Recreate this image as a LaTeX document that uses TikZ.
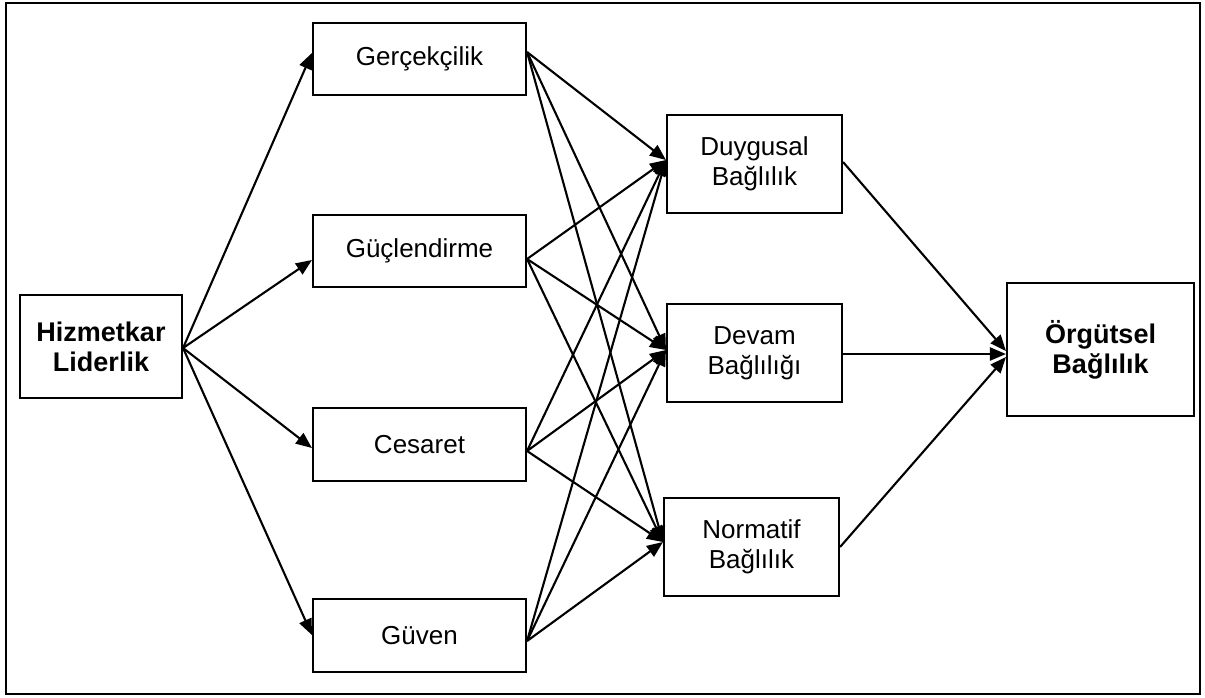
\documentclass[tikz,border=0pt]{standalone}
\usepackage{fontspec}
\setmainfont{Liberation Sans}
\usetikzlibrary{calc,arrows.meta}

\tikzset{
  box/.style={draw, line width=2.1pt, inner sep=0pt, align=center,
    font=\fontsize{26}{30.5}\selectfont},
  boldbox/.style={box, font=\fontsize{27}{30}\selectfont\bfseries},
  link/.style={line width=2.1pt, -{Triangle[length=16pt,width=13pt]}},
}

\begin{document}
\begin{tikzpicture}[x=1pt, y=-1pt]
  \useasboundingbox (0,0) rectangle (1205,697);
  % outer frame
  \draw[line width=2.1pt] (6,3) rectangle (1200,694);

  % source construct
  \node[boldbox, minimum width=162pt, minimum height=103pt] (hiz) at (101,346.5) {Hizmetkar\\Liderlik};

  % dimensions of servant leadership
  \node[box, minimum width=213pt, minimum height=72pt] (ger) at (419.5,59) {Gerçekçilik};
  \node[box, minimum width=213pt, minimum height=72pt] (guc) at (419.5,251) {Güçlendirme};
  \node[box, minimum width=213pt, minimum height=73pt] (ces) at (419.5,444.5) {Cesaret};
  \node[box, minimum width=213pt, minimum height=73pt] (guv) at (419.5,635.5) {Güven};

  % dimensions of commitment
  \node[box, minimum width=175pt, minimum height=98pt] (duy) at (754.5,164) {Duygusal\\Bağlılık};
  \node[box, minimum width=175pt, minimum height=98pt] (dev) at (754.5,353) {Devam\\Bağlılığı};
  \node[box, minimum width=175pt, minimum height=98pt] (nor) at (751.5,547) {Normatif\\Bağlılık};

  % outcome
  \node[boldbox, minimum width=187pt, minimum height=133pt] (org) at (1100.5,349.5) {Örgütsel\\Bağlılık};

  % attachment points on the box edges
  \coordinate (hizR) at ($(hiz.east)+(0,1.5)$);
  \coordinate (gerL) at ($(ger.west)+(0,-6)$);
  \coordinate (gerR) at ($(ger.east)+(0,-7)$);
  \coordinate (gucL) at ($(guc.west)+(0,9)$);
  \coordinate (gucR) at ($(guc.east)+(0,8)$);
  \coordinate (cesL) at ($(ces.west)+(0,3.5)$);
  \coordinate (cesR) at ($(ces.east)+(0,6.5)$);
  \coordinate (guvL) at ($(guv.west)+(0,-0.5)$);
  \coordinate (guvR) at ($(guv.east)+(0,5.5)$);
  \coordinate (duyL) at ($(duy.west)+(0,-4)$);
  \coordinate (duyR) at ($(duy.east)+(0,-2)$);
  \coordinate (devL) at ($(dev.west)+(0,-3)$);
  \coordinate (devR) at ($(dev.east)+(0,1)$);
  \coordinate (norL) at ($(nor.west)+(0,-5)$);
  \coordinate (norR) at ($(nor.east)+(0,0)$);
  \coordinate (orgL) at ($(org.west)+(0,4.5)$);

  % servant leadership to its dimensions
  \foreach \t in {gerL,gucL,cesL,guvL}
    \draw[link] (hizR) -- (\t);

  % every dimension to every commitment type
  \foreach \s in {gerR,gucR,cesR,guvR}
    \foreach \t in {duyL,devL,norL}
      \draw[link] (\s) -- (\t);

  % commitment types to organizational commitment
  \draw[link] (duyR) -- ($(orgL)+(0,-3)$);
  \draw[link] (devR) -- (orgL);
  \draw[link] (norR) -- ($(orgL)+(0,3)$);
\end{tikzpicture}
\end{document}
